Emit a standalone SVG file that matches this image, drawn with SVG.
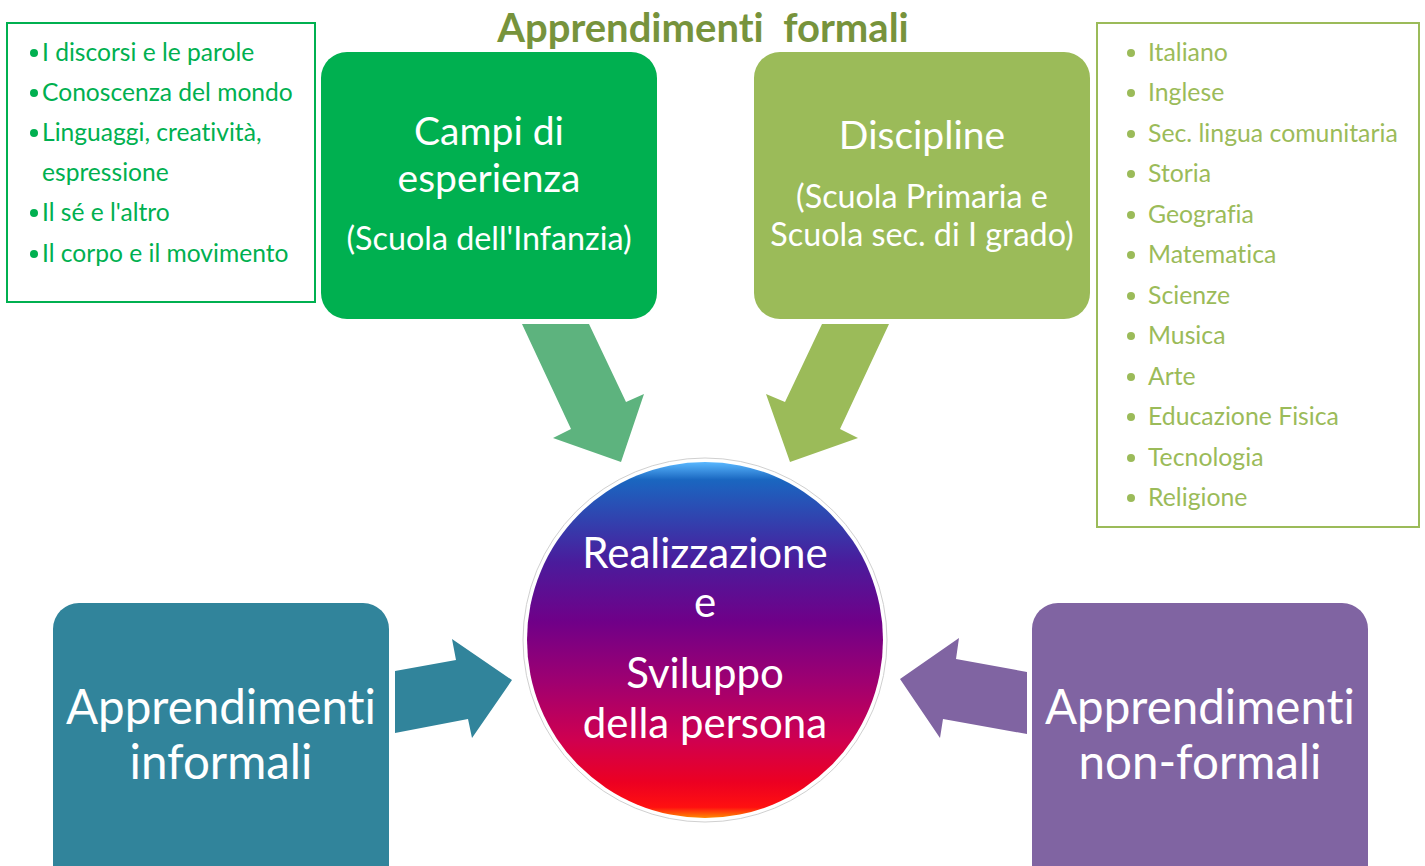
<svg xmlns="http://www.w3.org/2000/svg" width="1425" height="866" viewBox="0 0 1425 866">
<defs>
<style>
text{font-family:Lato,"Open Sans","Noto Sans",sans-serif;font-variant-ligatures:none}
.w{fill:#fff;text-anchor:middle}
.lg{fill:#00b050;font-size:24.6px}
.lr{fill:#9bbb59;font-size:24.8px}
.h{font-size:39px}
.s{font-size:32.3px}
.c{font-size:42px}
.b{font-size:47.5px}
</style>
<linearGradient id="cg" x1="0" y1="0" x2="0" y2="1">
<stop offset="0" stop-color="#5ab8ff"/>
<stop offset="0.05" stop-color="#1a66c0"/>
<stop offset="0.28" stop-color="#4a1c9c"/>
<stop offset="0.45" stop-color="#700088"/>
<stop offset="0.62" stop-color="#a00070"/>
<stop offset="0.78" stop-color="#cf0050"/>
<stop offset="0.9" stop-color="#ec0022"/>
<stop offset="0.97" stop-color="#ff1010"/>
<stop offset="1" stop-color="#ff8a00"/>
</linearGradient>
</defs>
<rect width="1425" height="866" fill="#fff"/>

<text id="title" x="703" y="42" text-anchor="middle" font-size="40" font-weight="bold" fill="#77933c" xml:space="preserve">Apprendimenti  formali</text>

<g id="connectors">
<polygon points="522,324 589,324 626,402 644,394 621,462 553,438 571,429" fill="#5db37e"/>
<polygon points="822,324 889,324 840,429 858,438 790,462 766,394 785,402" fill="#9bbb59"/>
<polygon points="395,671 456,660 452,639 512,680 472,738 468,719 395,733" fill="#31849b"/>
<polygon points="1027,672 956,659 959,638 900,679 940,738 943,719 1027,734" fill="#8064a2"/>
</g>

<g id="list-campi">
<rect x="7" y="23" width="308" height="279" fill="#fff" stroke="#00b050" stroke-width="2"/>
<g class="lg">
<circle cx="34" cy="53" r="4" fill="#00b050"/><text x="42" y="61">I discorsi e le parole</text>
<circle cx="34" cy="93" r="4" fill="#00b050"/><text x="42" y="101">Conoscenza del mondo</text>
<circle cx="34" cy="133" r="4" fill="#00b050"/><text x="42" y="141">Linguaggi, creatività,</text>
<text x="42" y="181">espressione</text>
<circle cx="34" cy="213" r="4" fill="#00b050"/><text x="42" y="221">Il sé e l'altro</text>
<circle cx="34" cy="254" r="4" fill="#00b050"/><text x="42" y="262">Il corpo e il movimento</text>
</g>
</g>

<g id="campi">
<rect x="321" y="52" width="336" height="267" rx="26" fill="#00b050"/>
<text class="w h" x="489" y="145">Campi di</text>
<text class="w h" x="489" y="192">esperienza</text>
<text class="w s" x="489" y="250">(Scuola dell'Infanzia)</text>
</g>

<g id="discipline">
<rect x="754" y="52" width="336" height="267" rx="26" fill="#9bbb59"/>
<text class="w h" x="922" y="149">Discipline</text>
<text class="w s" x="922" y="208">(Scuola Primaria e</text>
<text class="w s" x="922" y="246">Scuola sec. di I grado)</text>
</g>

<g id="list-discipline">
<rect x="1097" y="23" width="322" height="504" fill="#fff" stroke="#9bbb59" stroke-width="2"/>
<g class="lr">
<circle cx="1131" cy="53" r="4" fill="#9bbb59"/><text x="1148" y="61">Italiano</text>
<circle cx="1131" cy="93" r="4" fill="#9bbb59"/><text x="1148" y="101">Inglese</text>
<circle cx="1131" cy="134" r="4" fill="#9bbb59"/><text x="1148" y="142">Sec. lingua comunitaria</text>
<circle cx="1131" cy="174" r="4" fill="#9bbb59"/><text x="1148" y="182">Storia</text>
<circle cx="1131" cy="215" r="4" fill="#9bbb59"/><text x="1148" y="223">Geografia</text>
<circle cx="1131" cy="255" r="4" fill="#9bbb59"/><text x="1148" y="263">Matematica</text>
<circle cx="1131" cy="296" r="4" fill="#9bbb59"/><text x="1148" y="304">Scienze</text>
<circle cx="1131" cy="336" r="4" fill="#9bbb59"/><text x="1148" y="344">Musica</text>
<circle cx="1131" cy="377" r="4" fill="#9bbb59"/><text x="1148" y="385">Arte</text>
<circle cx="1131" cy="417" r="4" fill="#9bbb59"/><text x="1148" y="425">Educazione Fisica</text>
<circle cx="1131" cy="458" r="4" fill="#9bbb59"/><text x="1148" y="466">Tecnologia</text>
<circle cx="1131" cy="498" r="4" fill="#9bbb59"/><text x="1148" y="506">Religione</text>
</g>
</g>

<g id="centro">
<circle cx="705" cy="640" r="182" fill="#fff" stroke="#d0d0d0" stroke-width="1"/>
<circle cx="705" cy="640" r="178" fill="url(#cg)"/>
<text class="w c" x="705" y="568">Realizzazione</text>
<text class="w c" x="705" y="617">e</text>
<text class="w c" x="705" y="688">Sviluppo</text>
<text class="w c" x="705" y="738">della persona</text>
</g>

<g id="informali">
<rect x="53" y="603" width="336" height="290" rx="26" fill="#31849b"/>
<text class="w b" x="221" y="724">Apprendimenti</text>
<text class="w b" x="221" y="779">informali</text>
</g>

<g id="nonformali">
<rect x="1032" y="603" width="336" height="290" rx="26" fill="#8064a2"/>
<text class="w b" x="1200" y="724">Apprendimenti</text>
<text class="w b" x="1200" y="779">non-formali</text>
</g>
</svg>
